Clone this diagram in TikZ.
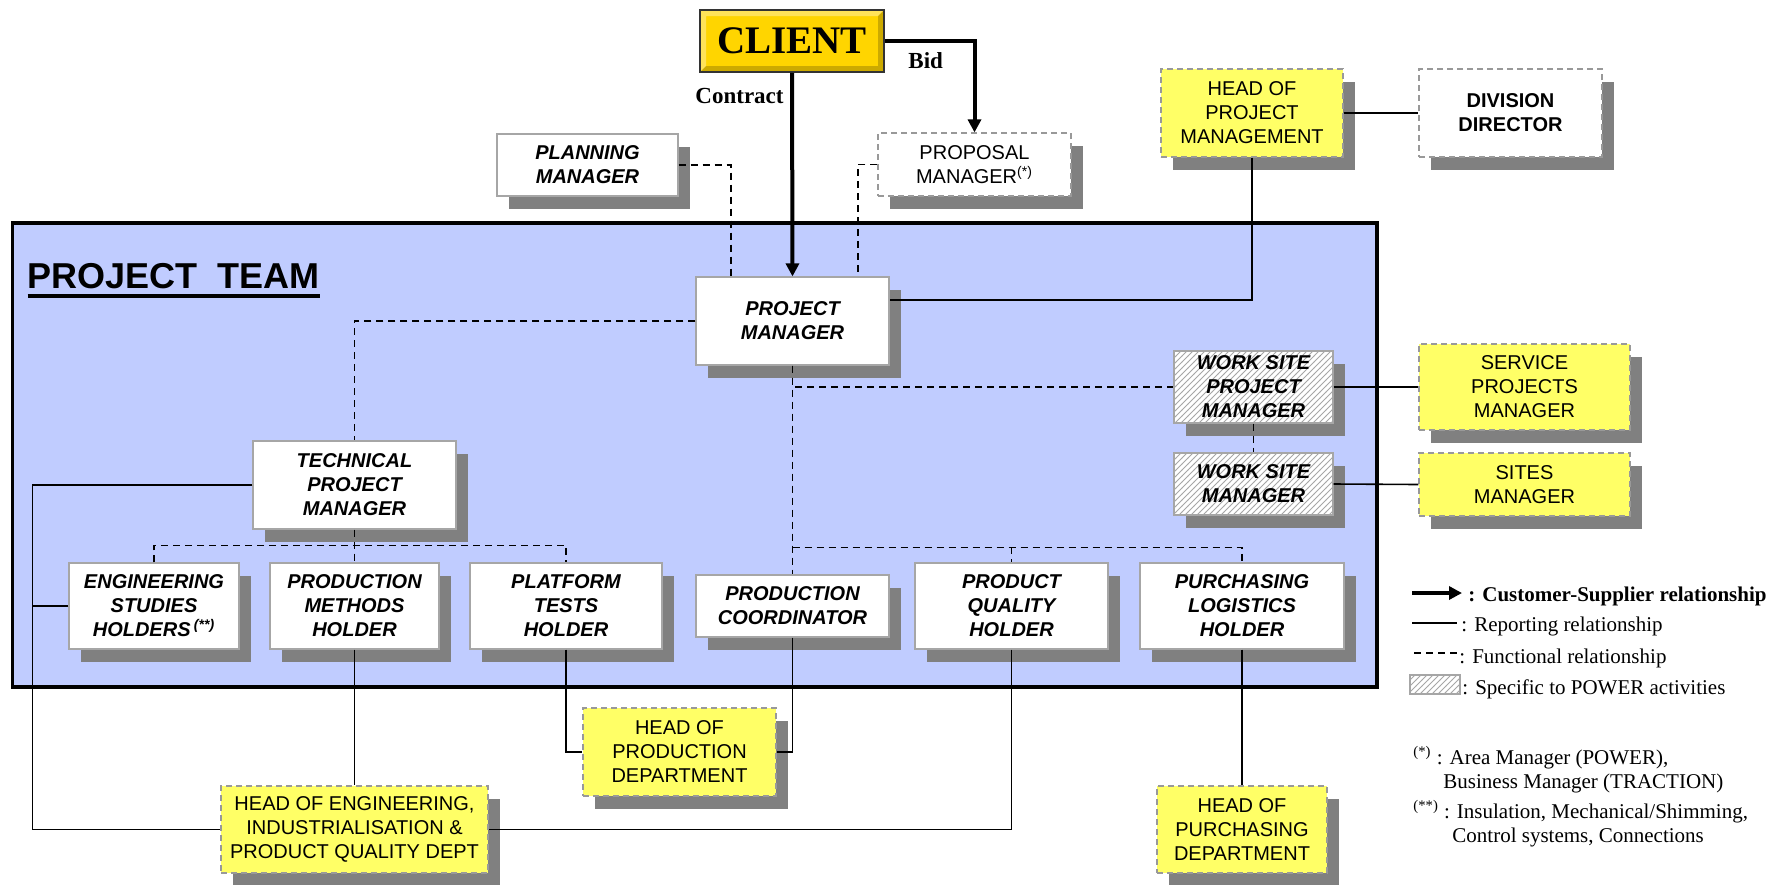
\documentclass[tikz,border=0pt]{standalone}
\usepackage{fontspec}
\setmainfont{Liberation Serif}
\setsansfont{Liberation Sans}
\usetikzlibrary{arrows.meta, calc, patterns, shadows}

\definecolor{teamblue}{RGB}{192,204,255}
\definecolor{noteyellow}{RGB}{255,255,102}
\definecolor{clientgold}{RGB}{255,213,0}
\definecolor{shadowgray}{RGB}{128,128,128}

\begin{document}
\begin{tikzpicture}[
    x=0.5pt, y=-0.5pt,
    shad/.style={general shadow={fill=shadowgray, shadow xshift=6pt, shadow yshift=-6.5pt}},
    role/.style={draw=gray!70, fill=white, line width=0.6pt, shad,
                 inner sep=0pt, align=center,
                 font=\fontsize{10}{12}\selectfont\sffamily\bfseries\itshape},
    ext/.style={role, draw=gray!80, dash pattern=on 3pt off 2pt,
                font=\fontsize{10}{12}\selectfont\sffamily},
    head/.style={ext, fill=noteyellow},
    power/.style={role, postaction={pattern=north east lines, pattern color=gray!70}},
    client/.style={draw=black!80, fill=clientgold, line width=0.8pt, inner sep=0pt,
                   font=\fontsize{19.5}{22}\selectfont\bfseries,
                   path picture={
                     \fill[white, opacity=.35] (path picture bounding box.south west)
                       -- (path picture bounding box.north west) -- (path picture bounding box.north east)
                       -- ([shift={(-3pt,-3pt)}]path picture bounding box.north east)
                       -- ([shift={(3pt,-3pt)}]path picture bounding box.north west)
                       -- ([shift={(3pt,3pt)}]path picture bounding box.south west) -- cycle;
                     \fill[black, opacity=.2] (path picture bounding box.south west)
                       -- (path picture bounding box.south east) -- (path picture bounding box.north east)
                       -- ([shift={(-3pt,-3pt)}]path picture bounding box.north east)
                       -- ([shift={(-3pt,3pt)}]path picture bounding box.south east)
                       -- ([shift={(3pt,3pt)}]path picture bounding box.south west) -- cycle;}},
    team/.style={draw, fill=teamblue, line width=1.8pt, inner sep=0pt},
    rep/.style={line width=0.8pt},
    func/.style={line width=0.7pt, dash pattern=on 3.5pt off 2.5pt},
    cs/.style={line width=2pt, -{Triangle[length=6.5pt, width=6.5pt]}},
    lbl/.style={inner sep=0pt, font=\fontsize{11.5}{13}\selectfont\bfseries},
    key/.style={inner sep=0pt, anchor=base west, font=\fontsize{10.5}{12}\selectfont}]
  \useasboundingbox (0,0) rectangle (1787,884);

  % project team frame
  \node[team, minimum width=682.2pt, minimum height=232pt] (team) at (694.8,455) {};
  \node[inner sep=0pt, anchor=base west, font=\fontsize{18}{20}\selectfont\sffamily\bfseries]
    (teamlbl) at (27.5,288) {PROJECT\ \ TEAM};
  \draw[line width=2pt] ([yshift=-3.75pt]teamlbl.base west) -- ([yshift=-3.75pt]teamlbl.base east);

  % top
  \node[client, minimum width=92pt, minimum height=31pt] (client) at (792,41) {CLIENT};
  \node[lbl, anchor=base east] (contract) at (784,103) {Contract};
  \node[lbl, anchor=base west] (bid) at (908,68) {Bid};
  \node[role, minimum width=90.5pt, minimum height=31pt] (planning) at (587.5,165) {PLANNING\\MANAGER};
  \node[ext, minimum width=96.5pt, minimum height=31.5pt] (proposal) at (974.5,164.5) {PROPOSAL\\MANAGER\textsuperscript{(*)}};
  \node[head, minimum width=91pt, minimum height=44pt] (headpm) at (1252,113) {HEAD OF\\PROJECT\\MANAGEMENT};
  \node[ext, font=\fontsize{10}{12}\selectfont\sffamily\bfseries,
        minimum width=91.5pt, minimum height=44pt] (division) at (1510.5,113) {DIVISION\\DIRECTOR};

  % inside the team
  \node[role, minimum width=96.5pt, minimum height=44pt] (projman) at (792.5,321) {PROJECT\\MANAGER};
  \node[role, minimum width=101.5pt, minimum height=44pt] (techpm) at (354.5,485) {TECHNICAL\\PROJECT\\MANAGER};
  \node[role, minimum width=85pt, minimum height=43pt] (eng) at (154,606) {ENGINEERING\\STUDIES\\HOLDERS\,\textsuperscript{(**)}};
  \node[role, minimum width=84.5pt, minimum height=43pt] (prodmeth) at (354.5,606) {PRODUCTION\\METHODS\\HOLDER};
  \node[role, minimum width=96pt, minimum height=43pt] (platform) at (566,606) {PLATFORM\\TESTS\\HOLDER};
  \node[role, minimum width=96.5pt, minimum height=31pt] (prodcoord) at (792.5,606) {PRODUCTION\\COORDINATOR};
  \node[role, minimum width=96.5pt, minimum height=43pt] (quality) at (1011.5,606) {PRODUCT\\QUALITY\\HOLDER};
  \node[role, minimum width=102pt, minimum height=43pt] (purchasing) at (1242,606) {PURCHASING\\LOGISTICS\\HOLDER};
  \node[power, minimum width=79.5pt, minimum height=36pt] (wspm) at (1253.5,387) {WORK SITE\\PROJECT\\MANAGER};
  \node[power, minimum width=79.5pt, minimum height=31pt] (wsm) at (1253.5,484) {WORK SITE\\MANAGER};

  % outside heads
  \node[head, minimum width=105.5pt, minimum height=43pt] (servproj) at (1524.5,387) {SERVICE\\PROJECTS\\MANAGER};
  \node[head, minimum width=105.5pt, minimum height=31.5pt] (sitesman) at (1524.5,484.5) {SITES\\MANAGER};
  \node[head, minimum width=96.5pt, minimum height=44pt] (headprod) at (679.5,752) {HEAD OF\\PRODUCTION\\DEPARTMENT};
  \node[head, minimum width=133.5pt, minimum height=43.5pt] (headeng) at (354.5,829.5) {HEAD OF ENGINEERING,\\INDUSTRIALISATION \&\\PRODUCT QUALITY DEPT};
  \node[head, minimum width=85pt, minimum height=43.5pt] (headpurch) at (1242,829.5) {HEAD OF\\PURCHASING\\DEPARTMENT};

  % customer-supplier
  \draw[cs] (client.south) -- (projman.north);
  \draw[cs] (client.east) -| (proposal.north);

  % functional
  \draw[func] (planning.east) -| ($(projman.north)+(-61.5,0)$);
  \draw[func] (proposal.west) -| ($(projman.north)+(65.5,0)$);
  \draw[func] (projman.west) -| (techpm.north);
  \draw[func] (projman.south) |- (wspm.west);
  \draw[func] (projman.south) -- (prodcoord.north);
  \draw[func] (wspm.south) -- (wsm.north);
  \draw[func] (techpm.south) -- (prodmeth.north);
  \draw[func] (eng.north) |- ($(platform.north)+(0,-17)$) -- (platform.north);
  \draw[func] ($(quality.north -| prodcoord.north)+(0,-15)$) -| (purchasing.north);
  \draw[func] ($(quality.north)+(0,-15)$) -- (quality.north);

  % reporting
  \draw[rep] (headpm.east) -- (division.west);
  \draw[rep] (headpm.south) |- ($(projman.east)+(0,-21)$);
  \draw[rep] (wspm.east) -- (servproj.west);
  \draw[rep] (wsm.east) -- (sitesman.west);
  \draw[rep] (techpm.west) -| ($(headeng.west)+(-188,0)$) -- (headeng.west);
  \draw[rep] (eng.west) -- ++(-36,0);
  \draw[rep] (prodmeth.south) -- (headeng.north);
  \draw[rep] (platform.south) |- (headprod.west);
  \draw[rep] (prodcoord.south) |- (headprod.east);
  \draw[rep] (quality.south) |- (headeng.east);
  \draw[rep] (purchasing.south) -- (headpurch.north);

  % legend
  \coordinate (k1) at (1412,593);
  \coordinate (k2) at (1412,623);
  \coordinate (k3) at (1414,653);
  \node[key] (lg1) at (1468,601) {\textbf{: Customer-Supplier relationship}};
  \node[key] (lg2) at (1461,631) {: Reporting relationship};
  \node[key] (lg3) at (1459,663) {: Functional relationship};
  \node[draw=gray!70, line width=0.6pt, inner sep=0pt, minimum width=25pt, minimum height=9.5pt,
        pattern=north east lines, pattern color=gray!70] (k4) at (1435,684.5) {};
  \node[key] (lg4) at (1462,694) {: Specific to POWER activities};
  \draw[cs] (k1) -- ($(k1 -| lg1.west)+(-6,0)$);
  \draw[rep] (k2) -- ($(k2 -| lg2.west)+(-4,0)$);
  \draw[func] (k3) -- ($(k3 -| lg3.west)+(-1,0)$);

  % notes
  \node[key] (fn1a) at (1413,764) {\textsuperscript{(*)} : Area Manager (POWER),};
  \node[key] (fn1b) at (1443,788) {Business Manager (TRACTION)};
  \node[key] (fn2a) at (1413,818) {\textsuperscript{(**)} : Insulation, Mechanical/Shimming,};
  \node[key] (fn2b) at (1452,842) {Control systems, Connections};
\end{tikzpicture}
\end{document}
